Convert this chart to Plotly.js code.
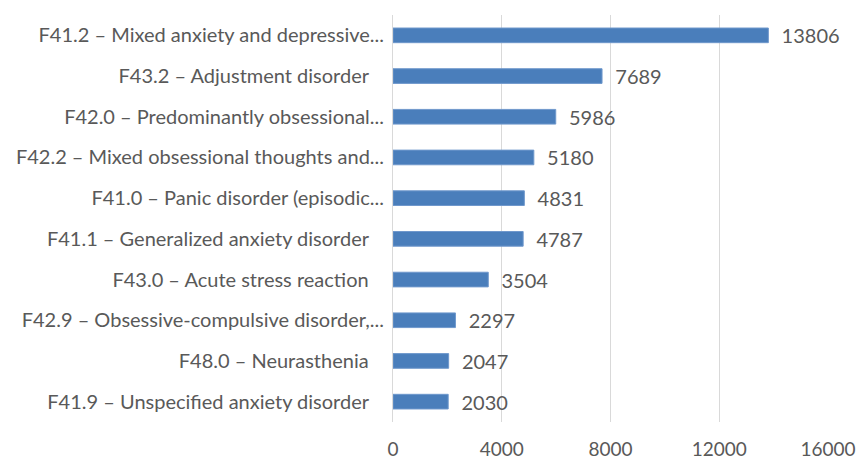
<!DOCTYPE html>
<html><head><meta charset="utf-8">
<script src="https://cdn.plot.ly/plotly-3.0.1.min.js"></script>
<style>html,body{margin:0;padding:0;background:#fff}#chart{width:859px;height:460px}</style>
</head><body><div id="chart"></div>
<script>
const categories = [
  "F41.2 – Mixed anxiety and depressive...",
  "F43.2 – Adjustment disorder\u00a0\u00a0\u00a0",
  "F42.0 – Predominantly obsessional...",
  "F42.2 – Mixed obsessional thoughts and...",
  "F41.0 – Panic disorder (episodic...",
  "F41.1 – Generalized anxiety disorder\u00a0\u00a0\u00a0",
  "F43.0 – Acute stress reaction\u00a0\u00a0\u00a0",
  "F42.9 – Obsessive-compulsive disorder,...",
  "F48.0 – Neurasthenia\u00a0\u00a0\u00a0",
  "F41.9 – Unspecified anxiety disorder\u00a0\u00a0\u00a0"
];
const values = [13806, 7689, 5986, 5180, 4831, 4787, 3504, 2297, 2047, 2030];
const xTicks = [0, 4000, 8000, 12000, 16000];

const trace = {
  type: 'bar', orientation: 'h',
  x: values, y: categories,
  width: 0.36,
  marker: {color: '#4a7ebb', line: {color: '#6f98cc', width: 1}},
  text: values.map(v => '\u00a0\u00a0' + v),
  textposition: 'outside',
  constraintext: 'none',
  cliponaxis: false,
  textfont: {family: 'Lato, sans-serif', size: 20, color: '#595959'},
  hoverinfo: 'none'
};
const layout = {
  width: 859, height: 460,
  margin: {l: 393, r: 31, t: 15, b: 38},
  paper_bgcolor: '#fff', plot_bgcolor: '#fff',
  showlegend: false,
  xaxis: {
    range: [0, 16000], tickvals: xTicks, ticktext: xTicks.map(String),
    showgrid: true, gridcolor: '#d9d9d9', gridwidth: 1,
    zeroline: false, showline: false, ticks: '',
    ticklabelstandoff: 14,
    tickfont: {family: 'Lato, sans-serif', size: 19, color: '#595959'},
    fixedrange: true
  },
  yaxis: {
    autorange: 'reversed', type: 'category',
    showline: true, linecolor: '#d9d9d9', linewidth: 1,
    showgrid: false, zeroline: false, ticks: '',
    ticklabelstandoff: 4,
    tickfont: {family: 'Lato, sans-serif', size: 20, color: '#595959'},
    fixedrange: true
  }
};
Plotly.newPlot('chart', [trace], layout, {displayModeBar: false, staticPlot: true});
</script></body></html>
